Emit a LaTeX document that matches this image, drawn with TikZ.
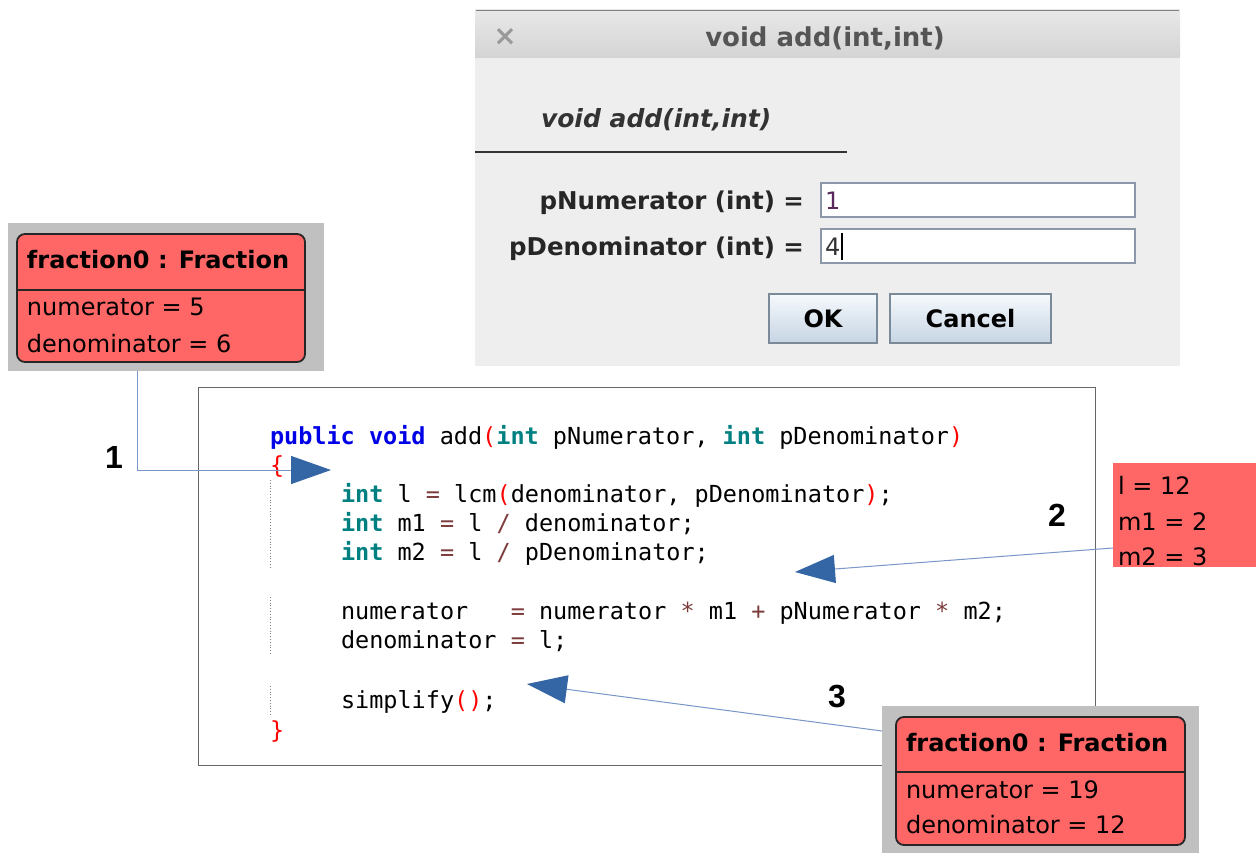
\documentclass[tikz,border=0pt]{standalone}
\usepackage{fontspec}
\setmainfont{DejaVu Sans}
\newfontfamily\codefont{DejaVu Sans Mono}
\newfontfamily\numfont{Liberation Sans}
\usetikzlibrary{arrows.meta}
\definecolor{dlgbg}{RGB}{238,238,238}
\definecolor{tbtop}{RGB}{232,232,232}
\definecolor{tbbot}{RGB}{212,212,212}
\definecolor{ttlgray}{RGB}{85,85,85}
\definecolor{fieldbd}{RGB}{140,152,170}
\definecolor{btntop}{RGB}{246,249,252}
\definecolor{btnbot}{RGB}{198,213,228}
\definecolor{btnbd}{RGB}{122,138,153}
\definecolor{objred}{RGB}{255,102,102}
\definecolor{objgray}{RGB}{192,192,192}
\definecolor{kwblue}{RGB}{0,0,230}
\definecolor{kwteal}{RGB}{0,128,128}
\definecolor{parred}{RGB}{255,0,0}
\definecolor{opbrown}{RGB}{125,60,60}
\definecolor{linkblue}{RGB}{120,150,200}
\definecolor{tipblue}{RGB}{52,101,164}
\definecolor{valpurple}{RGB}{90,40,90}
\newcommand\kwb[1]{{\bfseries\color{kwblue}#1}}
\newcommand\kwt[1]{{\bfseries\color{kwteal}#1}}
\newcommand\prr[1]{{\color{parred}#1}}
\newcommand\opr[1]{{\color{opbrown}#1}}
\begin{document}
\begin{tikzpicture}[x=1pt,y=-1pt,
  every node/.style={inner sep=0pt, outer sep=0pt},
  codeline/.style={anchor=base west, font=\codefont\fontsize{23.5}{28}\selectfont},
  uitext/.style={font=\fontsize{24}{28}\selectfont},
  grayback/.style={fill=objgray, anchor=north west},
  objbox/.style={fill=objred, draw=black!85, line width=1.8pt, rounded corners=8pt, anchor=north west},
  fieldtext/.style={anchor=base west, font=\fontsize{24}{28}\selectfont},
  conn/.style={draw=linkblue, line width=1pt, -{Triangle[length=40pt,width=28pt,color=tipblue]}},
  stepnum/.style={font=\numfont\bfseries\fontsize{32}{36}\selectfont},
  dots/.style={draw=gray, line width=0.8pt, dotted},
  txtfield/.style={fill=white, draw=fieldbd, line width=1.5pt, anchor=north west},
  btn/.style={draw=btnbd, line width=1.5pt, top color=btntop, bottom color=btnbot, anchor=north west, font=\bfseries\fontsize{24}{28}\selectfont}
]
\useasboundingbox (0,0) rectangle (1256,853);
\fill[white] (0,0) rectangle (1256,853);

% ---------- dialog ----------
\node[fill=dlgbg, minimum width=705pt, minimum height=356pt, anchor=north west] (dlg) at (475,10) {};
\shade[top color=tbtop, bottom color=tbbot] (475,10) rectangle (1180,58);
\draw[gray, line width=1.2pt] (476,10.5) -- (1179,10.5);
\node[font=\bfseries\fontsize{28}{30}\selectfont, text=gray!80] (xbtn) at (505,37) {×};
\node[anchor=base, font=\bfseries\fontsize{26}{30}\selectfont, text=ttlgray] (dlgtitle) at (825,46.5) {void add(int,int)};
\node[anchor=base west, font=\bfseries\itshape\fontsize{25}{30}\selectfont, text=black!80] (sig) at (541,128) {void add(int,int)};
\draw[black!80, line width=2pt] (475,152) -- (847,152);
\node[anchor=base east, font=\bfseries\fontsize{24.5}{28}\selectfont, text=black!85] (lbl1) at (804,210) {pNumerator (int) =};
\node[anchor=base east, font=\bfseries\fontsize{24.5}{28}\selectfont, text=black!85] (lbl2) at (804,256) {pDenominator (int) =};
\node[txtfield, minimum width=314pt, minimum height=34pt] (fld1) at (821,183) {};
\node[txtfield, minimum width=314pt, minimum height=34pt] (fld2) at (821,229) {};
\node[fieldtext, text=valpurple] (val1) at (825,210) {1};
\node[fieldtext, text=black!80] (val2) at (825,256) {4};
\draw[black, line width=1.2pt] (842,233) -- (842,260);
\node[btn, minimum width=108pt, minimum height=49pt] (okbtn) at (769,294) {OK};
\node[btn, minimum width=161pt, minimum height=49pt] (cancelbtn) at (890,294) {Cancel};

% ---------- left object ----------
\node[grayback, minimum width=316pt, minimum height=148pt] (fa) at (8,223) {};
\node[objbox, minimum width=288pt, minimum height=128pt] (faobj) at (17,234) {};
\draw[black!85, line width=1.5pt] (17,290) -- (305,290);
\node[anchor=base west, font=\bfseries\fontsize{24}{28}\selectfont] (fatitle) at (27,269) {fraction0 : Fraction};
\node[fieldtext] (fan) at (27,316) {numerator = 5};
\node[fieldtext] (fad) at (27,352) {denominator = 6};

% ---------- code ----------
\node[draw=black!60, line width=1pt, minimum width=897pt, minimum height=378pt, anchor=north west] (code) at (198,387) {};
\draw[dots] (270,480) -- (270,567);
\draw[dots] (270,597) -- (270,655);
\draw[dots] (270,686) -- (270,715);
\node[codeline] (c0) at (270,444.5) {\kwb{public}~\kwb{void}~add\prr{(}\kwt{int}~pNumerator,~\kwt{int}~pDenominator\prr{)}};
\node[codeline] (c1) at (270,473.5) {\prr{\{}};
\node[codeline] (c2) at (341,502.5) {\kwt{int}~l~\opr{=}~lcm\prr{(}denominator,~pDenominator\prr{)};};
\node[codeline] (c3) at (341,531.5) {\kwt{int}~m1~\opr{=}~l~\opr{/}~denominator;};
\node[codeline] (c4) at (341,560.5) {\kwt{int}~m2~\opr{=}~l~\opr{/}~pDenominator;};
\node[codeline] (c6) at (341,619.5) {numerator~~~\opr{=}~numerator~\opr{*}~m1~\opr{+}~pNumerator~\opr{*}~m2;};
\node[codeline] (c7) at (341,648.5) {denominator~\opr{=}~l;};
\node[codeline] (c9) at (341,708) {simplify\prr{()};};
\node[codeline] (c10) at (270,738) {\prr{\}}};

% ---------- locals box ----------
\node[fill=objred, minimum width=143pt, minimum height=104pt, anchor=north west] (loc) at (1113,463) {};
\node[fieldtext] (locl) at (1118,494) {l = 12};
\node[fieldtext] (locm1) at (1118,530) {m1 = 2};
\node[fieldtext] (locm2) at (1118,565) {m2 = 3};

% ---------- right object ----------
\node[grayback, minimum width=317pt, minimum height=147pt] (fb) at (882,706) {};
\node[objbox, minimum width=289pt, minimum height=128pt] (fbobj) at (896,717) {};
\draw[black!85, line width=1.5pt] (896,772) -- (1185,772);
\node[anchor=base west, font=\bfseries\fontsize{24}{28}\selectfont] (fbtitle) at (906,751) {fraction0 : Fraction};
\node[fieldtext] (fbn) at (906,798) {numerator = 19};
\node[fieldtext] (fbd) at (906,833) {denominator = 12};

% ---------- step numbers ----------
\node[stepnum] (s1) at (114,457) {1};
\node[stepnum] (s2) at (1057,515) {2};
\node[stepnum] (s3) at (837,697) {3};

% ---------- connectors ----------
\coordinate (t1) at (331,470);
\coordinate (t2) at (795,572);
\coordinate (t3) at (527,684);
\draw[conn] ([xshift=-29pt]fa.south) |- (t1);
\draw[conn] ([yshift=-33pt]loc.west) -- (t2);
\draw[conn] ([yshift=48.5pt]fb.west) -- (t3);
\end{tikzpicture}
\end{document}
